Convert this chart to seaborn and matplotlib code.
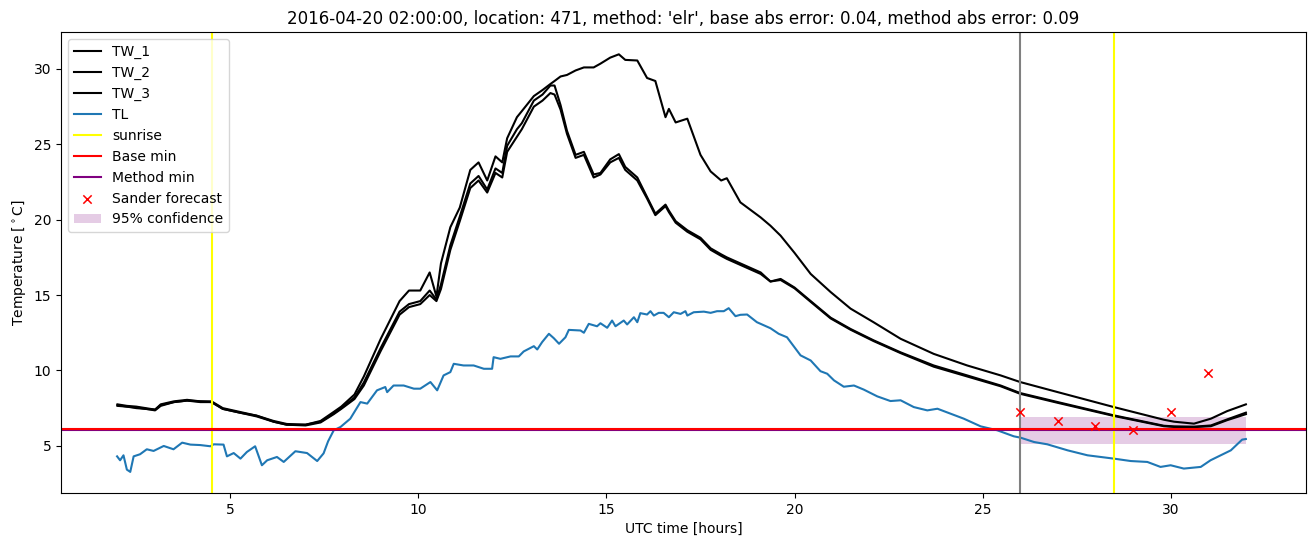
import matplotlib
matplotlib.use("Agg")
import matplotlib.pyplot as plt
import seaborn as sns
import pandas as pd

tw_hours = [2.0, 2.25, 2.5, 2.75, 3.0, 3.15, 3.5, 3.85, 4.2, 4.5, 4.8, 5.25, 5.7, 6.15, 6.5, 7.0,
            7.4, 7.75, 7.95, 8.3, 8.55, 9.0, 9.5, 9.75, 10.05, 10.3, 10.48, 10.6, 10.85, 11.1,
            11.38, 11.6, 11.83, 12.05, 12.23, 12.36, 12.62, 12.75, 13.07, 13.3, 13.51, 13.62,
            13.78, 13.95, 14.18, 14.4, 14.66, 14.84, 15.1, 15.33, 15.5, 15.82, 16.08, 16.3,
            16.57, 16.66, 16.84, 17.15, 17.5, 17.77, 18.05, 18.2, 18.56, 19.1, 19.36, 19.63,
            20.0, 20.43, 20.96, 21.49, 22.1, 22.82, 23.7, 24.59, 25.48, 26.0, 27.0, 28.49,
            29.82, 30.09, 30.62, 31.07, 31.5, 32.0]
tw1 = [7.75, 7.65, 7.6, 7.5, 7.4, 7.75, 7.95, 8.05, 7.95, 7.95, 7.5, 7.25, 7.0, 6.65, 6.45, 6.4,
       6.65, 7.25, 7.6, 8.4, 9.6, 12.1, 14.6, 15.3, 15.3, 16.5, 14.9, 17.1, 19.5, 20.8,
       23.3, 23.8, 22.6, 24.2, 23.8, 25.4, 26.8, 27.2, 28.2, 28.6, 29.0, 29.2,
       29.5, 29.6, 29.9, 30.1, 30.1, 30.35, 30.75, 30.97, 30.6, 30.56, 29.4, 29.2,
       26.8, 27.35, 26.45, 26.7, 24.3, 23.2, 22.6, 22.75, 21.15, 20.15, 19.6, 18.94,
       17.8, 16.4, 15.2, 14.1, 13.2, 12.1, 11.1, 10.33, 9.67, 9.23, 8.56, 7.57,
       6.73, 6.6, 6.47, 6.8, 7.3, 7.75]
tw2 = [7.7, 7.6, 7.55, 7.45, 7.4, 7.7, 7.9, 8.0, 7.95, 7.9, 7.45, 7.2, 7.0, 6.6, 6.4, 6.4,
       6.6, 7.15, 7.5, 8.2, 9.2, 11.5, 13.9, 14.4, 14.6, 15.3, 14.7, 15.7, 18.3, 20.2,
       22.4, 22.9, 22.0, 23.4, 23.1, 24.9, 26.0, 26.4, 27.9, 28.3, 28.9, 28.9,
       27.6, 25.9, 24.3, 24.5, 23.0, 23.1, 24.0, 24.35, 23.5, 22.8, 21.5, 20.4,
       21.0, 20.6, 19.9, 19.3, 18.8, 18.1, 17.7, 17.5, 17.1, 16.5, 15.9, 16.07,
       15.5, 14.6, 13.5, 12.75, 12.0, 11.2, 10.33, 9.67, 9.0, 8.5, 7.9, 7.02,
       6.33, 6.29, 6.27, 6.35, 6.75, 7.2]
tw3 = [7.65, 7.6, 7.5, 7.45, 7.35, 7.65, 7.9, 8.0, 7.9, 7.9, 7.45, 7.2, 6.95, 6.6, 6.4, 6.35,
       6.55, 7.1, 7.45, 8.1, 9.0, 11.3, 13.7, 14.2, 14.4, 15.0, 14.6, 15.4, 18.0, 19.9,
       22.1, 22.6, 21.8, 23.1, 22.8, 24.5, 25.5, 26.0, 27.5, 27.9, 28.4, 28.3,
       27.3, 25.7, 24.1, 24.3, 22.8, 23.0, 23.8, 24.1, 23.3, 22.6, 21.4, 20.3,
       20.9, 20.5, 19.8, 19.2, 18.7, 18.0, 17.6, 17.4, 17.0, 16.4, 15.9, 16.0,
       15.45, 14.55, 13.45, 12.7, 11.95, 11.15, 10.25, 9.6, 8.95, 8.45, 7.85, 6.98,
       6.3, 6.25, 6.24, 6.3, 6.7, 7.1]

tl_hours = [1.99, 2.07, 2.16, 2.25, 2.34, 2.43, 2.6, 2.78, 2.96, 3.23, 3.49, 3.72, 3.94, 4.2,
            4.47, 4.56, 4.82, 4.91, 5.09, 5.27, 5.44, 5.66, 5.84, 5.98, 6.24, 6.42, 6.73, 7.04,
            7.31, 7.48, 7.6, 7.75, 7.93, 8.19, 8.46, 8.64, 8.9, 9.12, 9.17, 9.34, 9.61, 9.88,
            10.05, 10.32, 10.5, 10.67, 10.85, 10.94, 11.2, 11.47, 11.74, 11.96, 12.0, 12.18,
            12.45, 12.67, 12.8, 13.07, 13.16, 13.29, 13.47, 13.6, 13.74, 13.91, 14.0, 14.31,
            14.4, 14.53, 14.75, 14.84, 15.02, 15.15, 15.24, 15.46, 15.55, 15.73, 15.82, 15.9,
            16.08, 16.17, 16.26, 16.39, 16.52, 16.66, 16.79, 16.97, 17.1, 17.15, 17.32, 17.59,
            17.77, 17.94, 18.12, 18.25, 18.43, 18.56, 18.74, 19.0, 19.36, 19.58, 19.8, 19.98,
            20.16, 20.43, 20.69, 20.87, 21.05, 21.31, 21.58, 21.84, 22.2, 22.55, 22.82, 23.17,
            23.53, 23.8, 24.15, 24.5, 24.95, 25.39, 25.83, 26.01, 26.37, 26.72, 27.26, 27.79,
            28.14, 28.49, 28.94, 29.38, 29.73, 30.0, 30.35, 30.8, 31.06, 31.6, 31.9, 32.0]
tl = [4.3, 4.04, 4.37, 3.42, 3.27, 4.3, 4.44, 4.77, 4.66, 4.99, 4.77, 5.21, 5.08, 5.05,
      4.97, 5.1, 5.08, 4.3, 4.52, 4.15, 4.59, 4.97, 3.71, 4.04, 4.26, 3.93, 4.64, 4.52,
      3.99, 4.5, 5.3, 6.03, 6.25, 6.8, 7.9, 7.8, 8.68, 8.9, 8.56, 9.0, 9.0, 8.79,
      8.79, 9.23, 8.68, 9.67, 9.89, 10.44, 10.33, 10.33, 10.11, 10.11, 10.88, 10.77,
      10.93, 10.93, 11.26, 11.61, 11.39, 11.88, 12.43, 12.14, 11.77, 12.2, 12.69, 12.65,
      12.5, 13.09, 12.93, 13.13, 12.83, 13.31, 12.93, 13.31, 13.05, 13.53, 13.2, 13.8,
      13.71, 13.93, 13.64, 13.82, 13.82, 13.53, 13.86, 13.75, 13.93, 13.64, 13.86, 13.9,
      13.82, 13.93, 13.93, 14.13, 13.6, 13.69, 13.71, 13.2, 12.8, 12.43, 12.2, 11.6,
      11.0, 10.66, 9.95, 9.78, 9.34, 8.92, 9.0, 8.73, 8.28, 7.97, 8.02, 7.57,
      7.35, 7.46, 7.13, 6.8, 6.29, 6.03, 5.63, 5.54, 5.25, 5.1, 4.7, 4.37,
      4.26, 4.15, 3.99, 3.93, 3.6, 3.71, 3.49, 3.6, 4.04, 4.7, 5.41, 5.45]

sunrise_hours = [4.5, 28.5]
forecast_start = 26.0
base_min = 6.1
method_min = 6.05
sander_hours = [26, 27, 28, 29, 30, 31]
sander_values = [7.26, 6.67, 6.34, 6.05, 7.26, 9.85]
conf_hours = [26.0, 32.0]
conf_low = [5.1, 5.1]
conf_high = [6.9, 6.9]

title = "2016-04-20 02:00:00, location: 471, method: 'elr', base abs error: 0.04, method abs error: 0.09"

fig, ax = plt.subplots(figsize=(13.1, 5.47), dpi=100)
fig.subplots_adjust(left=0.0466, right=0.997, bottom=0.099, top=0.9415)

tw_df = pd.DataFrame({"h": tw_hours, "TW_1": tw1, "TW_2": tw2, "TW_3": tw3})
for name in ["TW_1", "TW_2", "TW_3"]:
    sns.lineplot(data=tw_df, x="h", y=name, color="black", label=name, ax=ax, sort=False)
sns.lineplot(x=tl_hours, y=tl, color="#1f77b4", label="TL", ax=ax, sort=False)

for i, h in enumerate(sunrise_hours):
    ax.axvline(h, color="yellow", label="sunrise" if i == 0 else None)
ax.axvline(forecast_start, color="grey", linewidth=1.5)

ax.axhline(method_min, color="purple", label="Method min", zorder=2.4)
ax.axhline(base_min, color="red", label="Base min", zorder=2.5)

sns.scatterplot(x=sander_hours, y=sander_values, marker="x", color="red", s=36,
                linewidth=1.1, label="Sander forecast", ax=ax, zorder=3)
ax.fill_between(conf_hours, conf_low, conf_high, color="purple", alpha=0.2,
                linewidth=0, label="95% confidence")

handles, labels = ax.get_legend_handles_labels()
order = ["TW_1", "TW_2", "TW_3", "TL", "sunrise", "Base min", "Method min",
         "Sander forecast", "95% confidence"]
hmap = dict(zip(labels, handles))
ax.legend([hmap[k] for k in order], order, loc="upper left")

ax.set_xlim(0.5, 33.6)
ax.set_ylim(1.88, 32.45)
ax.set_title(title)
ax.set_xlabel("UTC time [hours]")
ax.set_ylabel("Temperature [$^\\circ$C]")

fig.savefig("out.png", dpi=100)
